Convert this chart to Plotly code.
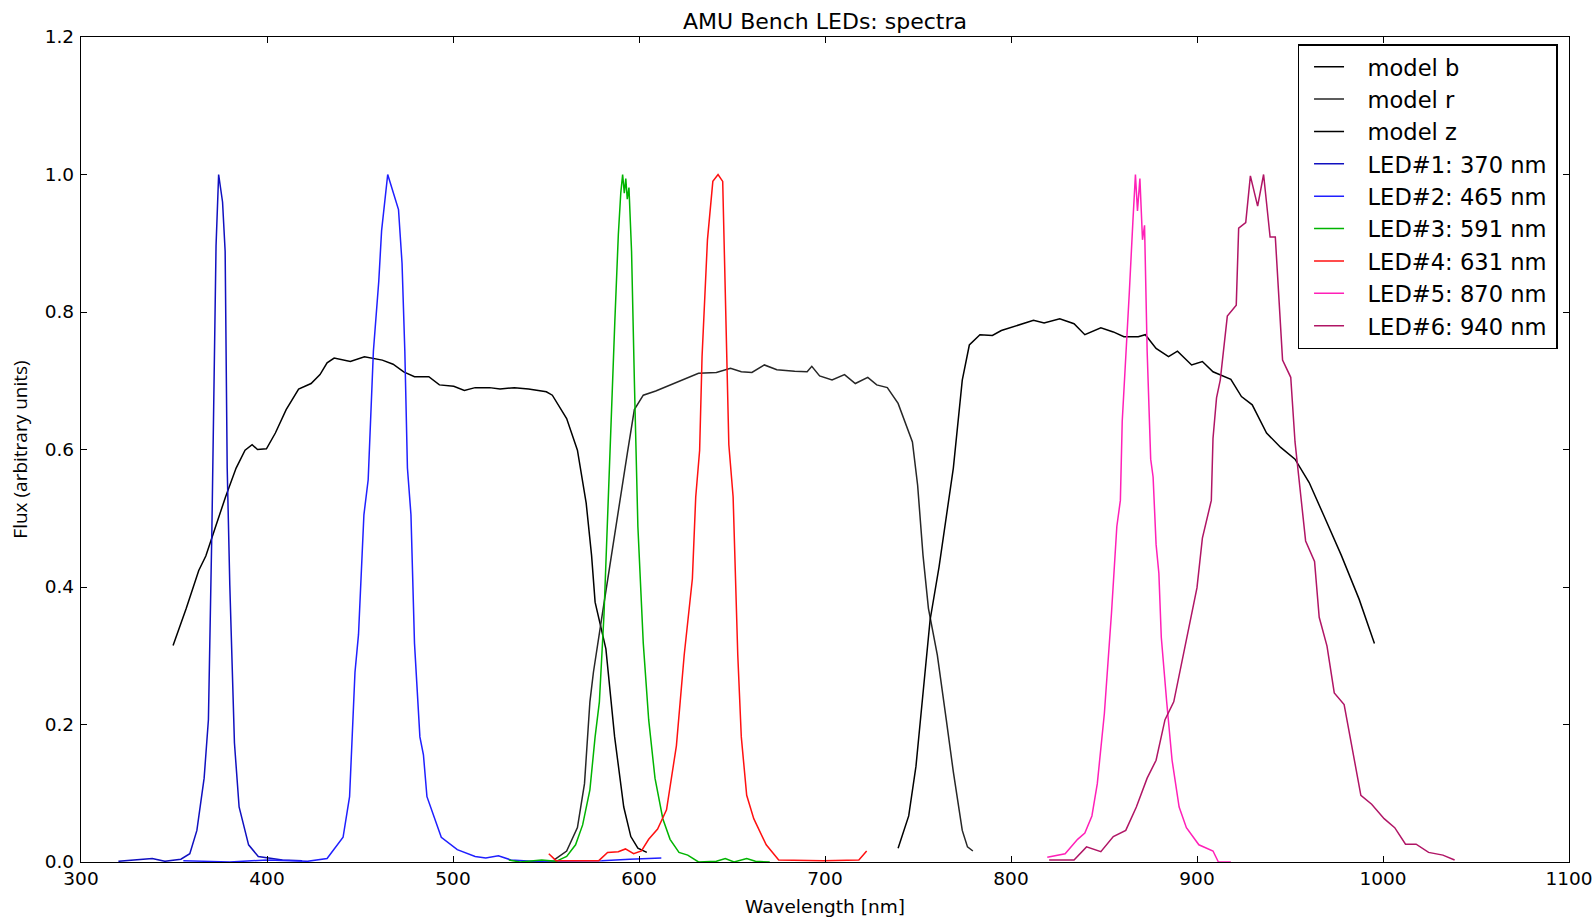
import plotly.graph_objects as go

# ---- data ----
model_b_x = [349.5, 356.6, 363.3, 367.1, 371.9, 377.7, 383.4, 388.2, 392.0, 394.9, 399.7, 404.5, 410.3, 417.0,
             423.7, 428.5, 432.3, 436.1, 444.8, 452.4, 462.0, 467.8, 473.5, 479.3, 487.0, 492.7, 500.4, 506.1,
             511.9, 519.6, 525.3, 533.0, 540.6, 550.2, 553.4, 556.0, 561.1, 566.9, 571.6, 574.5, 576.4, 582.2,
             586.9, 591.8, 595.6, 599.4, 604.2]
model_b_y = [0.315, 0.369, 0.424, 0.445, 0.484, 0.531, 0.573, 0.599, 0.607, 0.600, 0.601, 0.624, 0.658, 0.688,
             0.696, 0.709, 0.726, 0.733, 0.728, 0.735, 0.730, 0.724, 0.713, 0.706, 0.706, 0.694, 0.692, 0.686,
             0.690, 0.690, 0.688, 0.690, 0.688, 0.684, 0.679, 0.667, 0.645, 0.599, 0.522, 0.446, 0.378, 0.310,
             0.182, 0.080, 0.037, 0.020, 0.014]

model_r_x = [554.4, 561.1, 566.9, 570.7, 573.6, 575.5, 580.3, 585.1, 589.8, 593.7, 597.5, 602.3, 609.0, 616.7,
             624.3, 632.0, 641.6, 649.2, 655.0, 660.7, 667.4, 674.1, 683.7, 690.4, 692.9, 697.1, 703.8, 710.5,
             716.3, 723.0, 727.8, 733.5, 739.3, 744.1, 747.0, 749.8, 752.7, 755.6, 760.4, 765.2, 769.0, 773.8,
             776.6, 779.5]
model_r_y = [0.003, 0.016, 0.050, 0.114, 0.233, 0.276, 0.361, 0.446, 0.522, 0.594, 0.658, 0.679, 0.685, 0.694,
             0.702, 0.711, 0.712, 0.718, 0.713, 0.712, 0.723, 0.716, 0.714, 0.713, 0.721, 0.707, 0.701, 0.709,
             0.696, 0.705, 0.694, 0.690, 0.667, 0.633, 0.611, 0.548, 0.446, 0.369, 0.301, 0.207, 0.131, 0.046,
             0.022, 0.016]

model_z_x = [739.3, 745.0, 748.9, 752.7, 756.5, 761.3, 765.2, 769.0, 773.8, 777.6, 783.3, 790.0, 794.8, 804.4,
             812.1, 817.8, 826.2, 833.9, 839.7, 848.3, 855.0, 860.7, 868.4, 872.2, 878.0, 884.7, 889.5, 897.1,
             902.9, 908.6, 918.2, 923.9, 929.7, 937.4, 945.0, 952.7, 960.3, 968.0, 977.6, 987.2, 991.0, 995.4]
model_z_y = [0.020, 0.067, 0.139, 0.250, 0.352, 0.429, 0.505, 0.573, 0.701, 0.752, 0.767, 0.766, 0.773, 0.781,
             0.788, 0.784, 0.790, 0.783, 0.767, 0.777, 0.771, 0.764, 0.764, 0.767, 0.747, 0.735, 0.743, 0.723,
             0.728, 0.713, 0.702, 0.677, 0.665, 0.624, 0.603, 0.586, 0.552, 0.505, 0.446, 0.382, 0.352, 0.318]

led1_x = [320.1, 338.3, 345.1, 353.7, 358.5, 362.3, 366.2, 368.5, 370.4, 371.9, 372.6, 374.0, 376.1, 377.5,
          378.6, 380.0, 381.1, 382.5, 385.0, 390.1, 395.3, 408.3, 418.9]
led1_y = [0.001, 0.005, 0.001, 0.004, 0.012, 0.046, 0.122, 0.207, 0.488, 0.743, 0.896, 1.0, 0.960, 0.888,
          0.573, 0.403, 0.293, 0.173, 0.080, 0.025, 0.008, 0.003, 0.002]

led2_x = [355, 370, 380, 400, 421.8, 432.3, 440.9, 444.4, 447.3, 449.2, 452.1, 454.4, 457.2, 460.1, 461.6,
          464.9, 470.7, 472.6, 474.1, 475.5, 477.4, 479.3, 482.2, 484.1, 486.0, 493.7, 502.3, 511.9, 517.6,
          524.4, 531.1, 542.6, 560, 580, 595, 612]
led2_y = [0.002, 0.001, 0.0, 0.003, 0.001, 0.005, 0.036, 0.095, 0.276, 0.331, 0.505, 0.556, 0.743, 0.845, 0.918,
          1.0, 0.949, 0.871, 0.743, 0.573, 0.505, 0.318, 0.182, 0.156, 0.095, 0.036, 0.018, 0.008, 0.006,
          0.009, 0.003, 0.001, 0.001, 0.002, 0.004, 0.006]

led3_x = [530, 536, 547.7, 555.4, 561.1, 565.9, 569.7, 573.6, 576.4, 578.7, 581.2, 583.1, 585.1, 587.0, 588.9,
          590.2, 591.2, 592.1, 592.9, 593.7, 594.6, 596.0, 597.5, 599.4, 602.3, 605.2, 608.6, 612.8, 616.7,
          621.5, 626.2, 632.0, 641.6, 646.4, 651.1, 657.9, 662.6, 670.3]
led3_y = [0.003, 0.0, 0.003, 0.001, 0.008, 0.025, 0.054, 0.105, 0.182, 0.233, 0.361, 0.505, 0.667, 0.786, 0.913,
          0.973, 1.0, 0.973, 0.994, 0.964, 0.981, 0.888, 0.701, 0.488, 0.318, 0.207, 0.122, 0.063, 0.033,
          0.014, 0.010, 0.0, 0.001, 0.005, 0.0, 0.005, 0.001, 0.0]

led4_x = [551.5, 555.4, 578.4, 583.1, 588.9, 592.7, 597.1, 601.3, 605.2, 610.0, 614.8, 620.1, 624.3, 628.7,
          630.5, 632.6, 633.9, 636.8, 639.7, 642.5, 645.0, 646.4, 648.3, 650.6, 653.1, 655.0, 657.9, 661.7,
          668.4, 675.1, 687.5, 699.0, 718.2, 722.4]
led4_y = [0.012, 0.002, 0.002, 0.014, 0.015, 0.019, 0.012, 0.016, 0.033, 0.048, 0.076, 0.169, 0.301, 0.412,
          0.531, 0.599, 0.735, 0.905, 0.990, 1.0, 0.990, 0.845, 0.607, 0.531, 0.301, 0.182, 0.097, 0.063,
          0.025, 0.003, 0.002, 0.002, 0.003, 0.016]

led5_x = [819.5, 829.1, 835.8, 839.7, 843.5, 846.4, 850.2, 854.0, 856.9, 858.8, 859.8, 861.7, 863.6, 865.5,
          866.9, 868.0, 869.3, 870.7, 871.8, 873.2, 875.1, 876.4, 878.0, 879.5, 880.8, 883.7, 886.6, 890.4,
          894.3, 901.0, 908.6, 911.5, 918.2]
led5_y = [0.007, 0.012, 0.033, 0.042, 0.067, 0.114, 0.216, 0.361, 0.488, 0.526, 0.641, 0.726, 0.828, 0.930,
          1.0, 0.947, 0.994, 0.905, 0.926, 0.743, 0.586, 0.560, 0.462, 0.420, 0.327, 0.233, 0.148, 0.080,
          0.050, 0.025, 0.016, 0.0, 0.0]

led6_x = [820.5, 833.9, 840.6, 848.3, 855.0, 861.7, 867.4, 873.2, 878.0, 882.8, 887.5, 891.4, 896.2, 900.0,
          902.9, 907.7, 908.6, 910.5, 912.5, 916.3, 921.1, 922.4, 926.2, 928.7, 932.6, 935.8, 939.3, 942.1,
          946.0, 950.4, 952.7, 958.4, 963.2, 965.7, 969.9, 973.8, 979.1, 988.1, 993.9, 1000.6, 1006.3, 1012.1,
          1017.8, 1024.5, 1032.2, 1038.5]
led6_y = [0.003, 0.003, 0.022, 0.015, 0.037, 0.046, 0.080, 0.122, 0.148, 0.207, 0.233, 0.284, 0.344, 0.399,
          0.471, 0.526, 0.616, 0.675, 0.701, 0.794, 0.810, 0.922, 0.930, 0.998, 0.954, 1.0, 0.909, 0.909,
          0.730, 0.705, 0.611, 0.467, 0.437, 0.356, 0.314, 0.246, 0.229, 0.097, 0.084, 0.063, 0.050, 0.026,
          0.026, 0.014, 0.010, 0.003]

series = [
    ("model b", model_b_x, model_b_y, "#000000"),
    ("model r", model_r_x, model_r_y, "#262626"),
    ("model z", model_z_x, model_z_y, "#000000"),
    ("LED#1: 370 nm", led1_x, led1_y, "#1010c0"),
    ("LED#2: 465 nm", led2_x, led2_y, "#1f1fff"),
    ("LED#3: 591 nm", led3_x, led3_y, "#00b400"),
    ("LED#4: 631 nm", led4_x, led4_y, "#ff1010"),
    ("LED#5: 870 nm", led5_x, led5_y, "#ff20b8"),
    ("LED#6: 940 nm", led6_x, led6_y, "#b01565"),
]

GAP_L = "\u2002\u00a0"   # space between legend line sample and text
GAP_R = "\u2009"         # a little right padding inside the legend box

fig = go.Figure()
for name, xs, ys, col in series:
    fig.add_trace(go.Scatter(x=xs, y=ys, mode="lines", name=GAP_L + name + GAP_R,
                             line=dict(color=col, width=1.5)))

axis_common = dict(showline=True, linecolor="black", linewidth=1.3, mirror="ticks",
                   ticks="inside", ticklen=6, tickwidth=1, tickcolor="black",
                   showgrid=False, zeroline=False, automargin=False,
                   ticklabeloverflow="allow",
                   tickfont=dict(family="DejaVu Sans", size=18.5, color="black"))

W, H = 1595, 917
fig.update_layout(
    width=W, height=H,
    margin=dict(l=81, r=26, t=37, b=55),
    paper_bgcolor="white", plot_bgcolor="white",
    title=dict(text="AMU Bench LEDs: spectra", x=0.5, xref="paper", xanchor="center",
               y=1 - 21 / H, yanchor="middle",
               font=dict(family="DejaVu Sans", size=22, color="black")),
    xaxis=dict(range=[300, 1100], dtick=100, tick0=300,
               title=dict(text="Wavelength [nm]", standoff=14,
                          font=dict(family="DejaVu Sans", size=18.5, color="black")),
               **axis_common),
    yaxis=dict(range=[0, 1.2], dtick=0.2, tick0=0, tickformat=".1f", ticklabelstandoff=2,
               title=dict(text="Flux (arbitrary units)", standoff=12,
                          font=dict(family="Open Sans", size=19, color="black")),
               **axis_common),
    legend=dict(x=0.9923, xanchor="right", y=0.9915, yanchor="top",
                bgcolor="white", bordercolor="black", borderwidth=1.5,
                font=dict(family="DejaVu Sans", size=22.6, color="black"),
                itemwidth=30, indentation=10, traceorder="normal"),
    showlegend=True,
)

# remove the default page margin so the figure sits at the window's top-left corner
fig.write_html("out.html", config={"displayModeBar": False},
               post_script="document.body.style.margin='0';")
